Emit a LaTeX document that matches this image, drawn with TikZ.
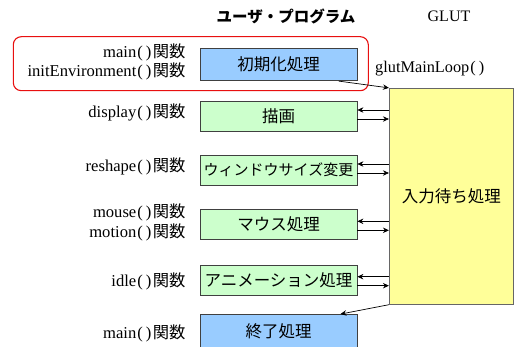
\documentclass[tikz,border=0pt]{standalone}
\usepackage{fontspec}
\setmainfont{Liberation Serif}
\newfontfamily\jp{Noto Sans CJK JP}
\usetikzlibrary{arrows.meta,calc}
\definecolor{initblue}{HTML}{99CCFF}
\definecolor{procgreen}{HTML}{CCFFCC}
\definecolor{waityellow}{HTML}{FFFF99}
\definecolor{edgegray}{HTML}{404040}
\definecolor{grpred}{HTML}{E81010}
\newcommand\fnlabel[1]{#1\kern1pt(\kern3pt)\kern1.5pt{\jp\fontsize{16.3}{19.5}\selectfont 関数}}
\tikzset{
  bx/.style={draw=edgegray, line width=0.8pt, minimum width=157pt, minimum height=30pt,
    inner sep=0pt, font=\jp\fontsize{16.5}{18}\selectfont},
  lbl/.style={anchor=east, align=right, inner sep=0pt, font=\fontsize{16.6}{19.5}\selectfont},
  arr/.style={-{Stealth[length=6pt,width=5.5pt,inset=2pt]}, line width=0.7pt},
}
\begin{document}
\begin{tikzpicture}[x=1pt,y=-1pt]
\useasboundingbox (0,0) rectangle (517,347);
% headers
\node[font=\jp\bfseries\fontsize{15.5}{18}\selectfont] (hdr) at (286,16) {ユーザ・プログラム};
\node[font=\fontsize{16}{18}\selectfont] (glut) at (449,16) {GLUT};
% group frame
\node[draw=grpred, line width=1.1pt, rounded corners=8pt, minimum width=355pt, minimum height=54pt, inner sep=0pt] (grp) at (190.8,63.7) {};
% boxes
\node[bx, fill=initblue, minimum height=32.4pt] (init) at (278.5,64.5) {初期化処理};
\node[bx, fill=procgreen] (disp) at (278.5,116.7) {描画};
\node[bx, fill=procgreen, font=\jp\fontsize{15}{18}\selectfont] (resh) at (278.5,170) {ウィンドウサイズ変更};
\node[bx, fill=procgreen] (mous) at (278.5,224.3) {マウス処理};
\node[bx, fill=procgreen] (idle) at (278.5,280) {アニメーション処理};
\node[bx, fill=initblue, minimum height=33pt] (fin) at (278.5,331) {終了処理};
\node[bx, draw=black!60, fill=waityellow, minimum width=124pt, minimum height=216pt] (wait) at (451.3,196.3) {入力待ち処理};
% labels
\node[lbl] (l1) at (185.7,62) {\fnlabel{main}\\\fnlabel{initEnvironment}};
\node[lbl] (l2) at (185.7,112.3) {\fnlabel{display}};
\node[lbl] (l3) at (185.7,166.7) {\fnlabel{reshape}};
\node[lbl] (l4) at (185.7,222.3) {\fnlabel{mouse}\\\fnlabel{motion}};
\node[lbl] (l5) at (185.7,281.7) {\fnlabel{idle}};
\node[lbl] (l6) at (185.7,333.3) {\fnlabel{main}};
\node[anchor=west, inner sep=0pt, font=\fontsize{16.3}{18}\selectfont] (loop) at (375,69) {glutMainLoop\kern1pt(\kern3pt)};
% connectors
\draw[arr] ($(init.south east)+(-18.7,0)$) -- (wait.north west);
\draw[arr] ($(wait.west |- disp.east)+(0,-6.7)$) -- ($(disp.east)+(0,-6.7)$);
\draw[arr] ($(disp.east)+(0,2.3)$) -- ($(wait.west |- disp.east)+(0,2.3)$);
\draw[arr] ($(wait.west |- resh.east)+(0,-6)$) -- ($(resh.east)+(0,-6)$);
\draw[arr] ($(resh.east)+(0,3)$) -- ($(wait.west |- resh.east)+(0,3)$);
\draw[arr] ($(wait.west |- mous.east)+(0,-3)$) -- ($(mous.east)+(0,-3)$);
\draw[arr] ($(mous.east)+(0,6)$) -- ($(wait.west |- mous.east)+(0,6)$);
\draw[arr] ($(wait.west |- idle.east)+(0,-3.3)$) -- ($(idle.east)+(0,-3.3)$);
\draw[arr] ($(idle.east)+(0,5.7)$) -- ($(wait.west |- idle.east)+(0,5.7)$);
\draw[arr] (wait.south west) -- ($(fin.north east)+(-17,0)$);
\end{tikzpicture}
\end{document}
